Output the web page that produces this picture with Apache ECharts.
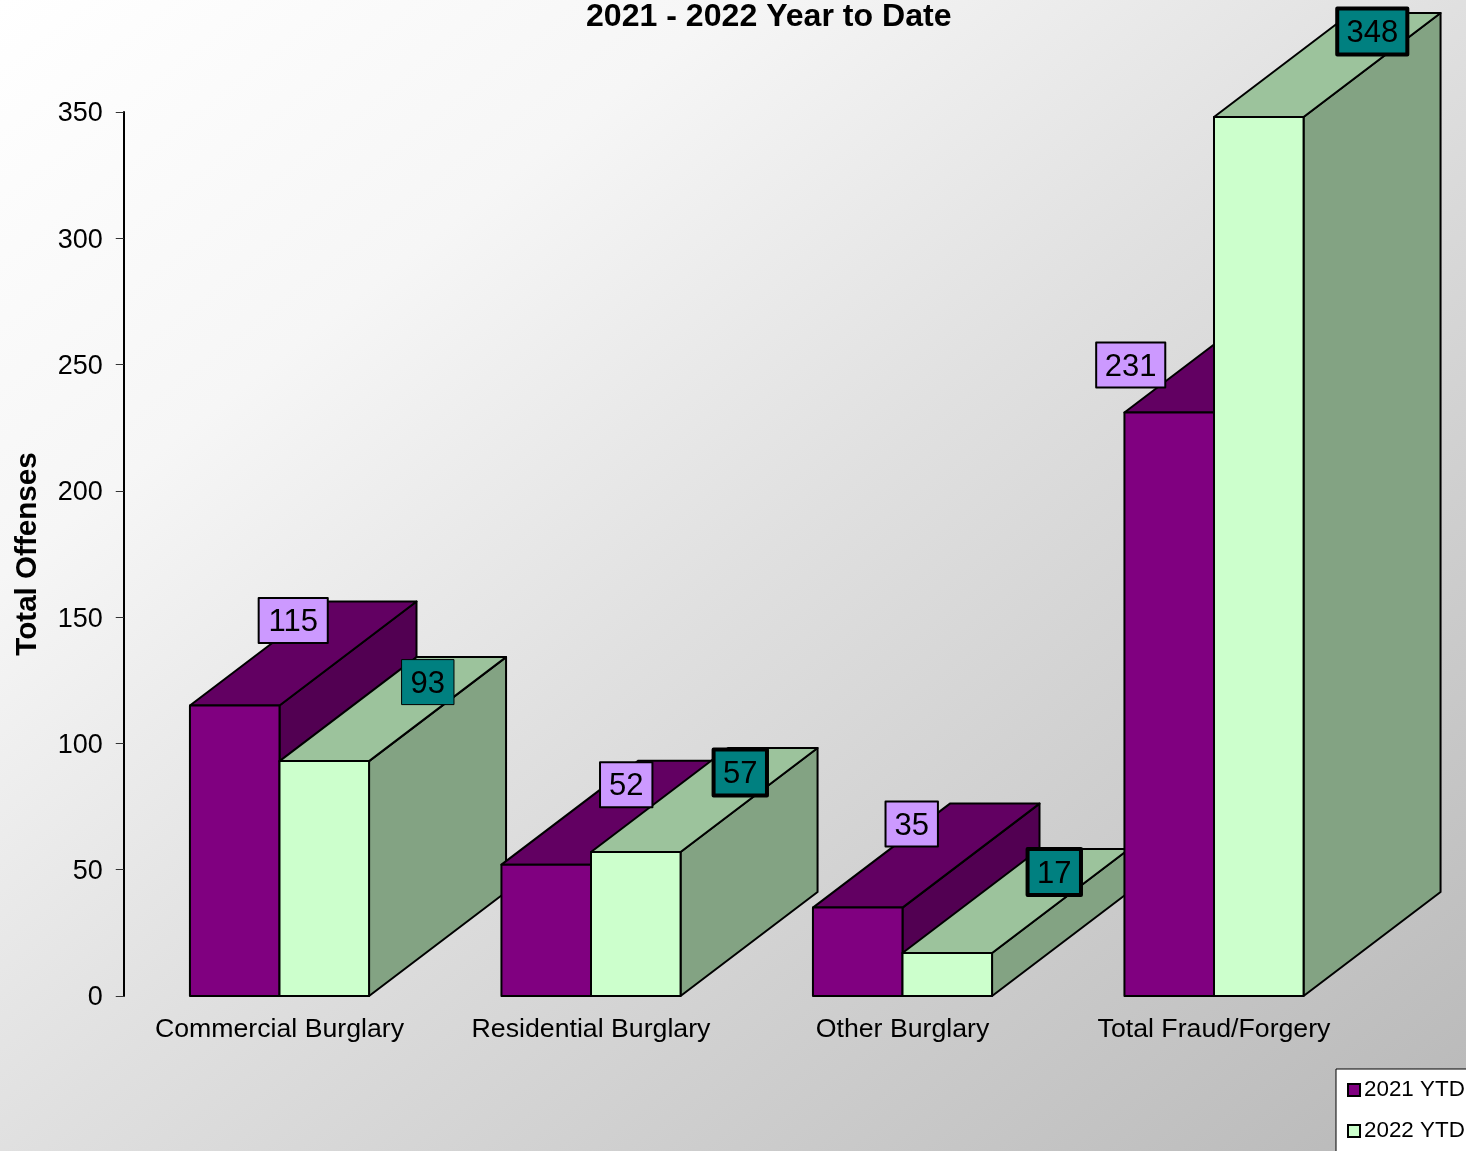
<!DOCTYPE html>
<html>
<head>
<meta charset="utf-8">
<style>html,body{margin:0;padding:0;overflow:hidden}#c{width:1466px;height:1151px}</style>
<script src="https://cdn.jsdelivr.net/npm/echarts@6/dist/echarts.min.js"></script>
</head>
<body>
<div id="c"></div>
<script>
const categories = ['Commercial Burglary', 'Residential Burglary', 'Other Burglary', 'Total Fraud/Forgery'];
const values2021 = [115, 52, 35, 231];
const values2022 = [93, 57, 17, 348];
const yTicks = { min: 0, max: 350, interval: 50 };

const FONT = '"Liberation Sans", Arial, sans-serif';
const DEPTH = [137, -104];
const looks = [
  { front: '#800080', top: '#620062', side: '#520052', label: '#CC99FF', offset: 0,
    border: [2, 2, 2, 2], nudge: [[58.5, -85], [80, -80], [54, -83.6], [-38.5, -47.6]] },
  { front: '#CCFFCC', top: '#9CC39C', side: '#83A383', label: '#008080', offset: 1,
    border: [1, 4, 4, 4], nudge: [[103.5, -79], [104.5, -79.5], [107, -81], [113.5, -85.5]] }
];

function renderBar(look) {
  return function (params, api) {
    const i = api.value(0);
    const band = api.size([1, 0])[0];
    const w = band * 0.2875;
    const base = api.coord([i, 0]);
    const head = api.coord([i, api.value(1)]);
    const x0 = base[0] - w + look.offset * w;
    const x1 = x0 + w;
    const yb = base[1], yt = head[1];
    const dx = DEPTH[0], dy = DEPTH[1];
    const z = (i + 1) * 10 + look.offset;
    const line = { stroke: '#000', lineWidth: 2, lineJoin: 'round' };
    const poly = (pts, fill, z2) => ({
      type: 'polygon', z2, shape: { points: pts },
      style: Object.assign({ fill }, line)
    });
    const n = look.nudge[i];
    const text = String(api.value(1));
    const cx = (x0 + x1) / 2 + n[0];
    const cy = yt + n[1];
    const extra = look.border[i] >= 4 ? 1 : 0;
    const boxW = text.length * 16.7 + 19 + extra;
    const boxH = 45 + extra;
    return {
      type: 'group',
      children: [
        poly([[x1, yb], [x1 + dx, yb + dy], [x1 + dx, yt + dy], [x1, yt]], look.side, z),
        poly([[x0, yt], [x0 + dx, yt + dy], [x1 + dx, yt + dy], [x1, yt]], look.top, z),
        poly([[x0, yb], [x0, yt], [x1, yt], [x1, yb]], look.front, z),
        {
          type: 'rect', z2: 500 + i,
          shape: { x: cx - boxW / 2, y: cy - boxH / 2, width: boxW, height: boxH },
          style: { fill: look.label, stroke: '#000', lineWidth: look.border[i], lineJoin: 'round' }
        },
        {
          type: 'text', z2: 520 + i,
          x: cx, y: cy + 2,
          style: {
            text, font: '31px ' + FONT, fill: '#000',
            align: 'center', verticalAlign: 'middle'
          }
        }
      ]
    };
  };
}

function seriesFor(name, values, look) {
  return {
    name, type: 'custom', coordinateSystem: 'cartesian2d', silent: true,
    clip: false, legendIcon: 'rect',
    itemStyle: { color: look.front, borderColor: '#000', borderWidth: 2 },
    renderItem: renderBar(look),
    encode: { x: 0, y: 1 },
    data: values.map((v, i) => [i, v])
  };
}

const chart = echarts.init(document.getElementById('c'), null, { renderer: 'canvas' });
chart.setOption({
  animation: false,
  backgroundColor: {
    type: 'linear', x: 0, y: 0, x2: 0.7627, y2: 1.2373,
    colorStops: [
      { offset: 0, color: '#FFFFFF' }, { offset: 0.25, color: '#F6F6F6' },
      { offset: 0.5, color: '#E0E0E0' }, { offset: 1, color: '#B8B8B8' }
    ]
  },
  title: {
    text: '2021 - 2022 Year to Date', left: 586, top: 1, padding: 0,
    textStyle: { fontFamily: FONT, fontSize: 32.1, fontWeight: 'bold', color: '#000' }
  },
  legend: {
    orient: 'vertical', left: 1336, top: 1069, width: 300, height: 300,
    padding: [10, 12, 16, 11], itemGap: 19, itemWidth: 12, itemHeight: 12,
    backgroundColor: '#fff', borderColor: '#000', borderWidth: 1, borderRadius: 0,
    selectedMode: false, icon: 'rect',
    textStyle: { fontFamily: FONT, fontSize: 22.4, color: '#000', padding: [0, 0, 0, -1] },
    data: ['2021 YTD', '2022 YTD']
  },
  grid: { left: 123.75, top: 112, width: 1246, height: 884, outerBoundsMode: 'none' },
  xAxis: {
    type: 'category', data: categories,
    axisLine: { show: false }, axisTick: { show: false },
    axisLabel: { interval: 0, margin: 20, fontFamily: FONT, fontSize: 26.7, color: '#000' }
  },
  yAxis: {
    type: 'value', min: yTicks.min, max: yTicks.max, interval: yTicks.interval,
    name: 'Total Offenses', nameLocation: 'middle', nameGap: 81,
    nameTextStyle: { fontFamily: FONT, fontSize: 29.6, fontWeight: 'bold', color: '#000' },
    splitLine: { show: false },
    axisLine: { show: true, lineStyle: { color: '#000', width: 2 } },
    axisTick: { show: true, length: 8, lineStyle: { color: '#333', width: 1 } },
    axisLabel: { margin: 21, verticalAlign: 'top', lineHeight: 4, fontFamily: FONT, fontSize: 27, color: '#000' }
  },
  series: [
    seriesFor('2021 YTD', values2021, looks[0]),
    seriesFor('2022 YTD', values2022, looks[1])
  ]
});
</script>
</body>
</html>
